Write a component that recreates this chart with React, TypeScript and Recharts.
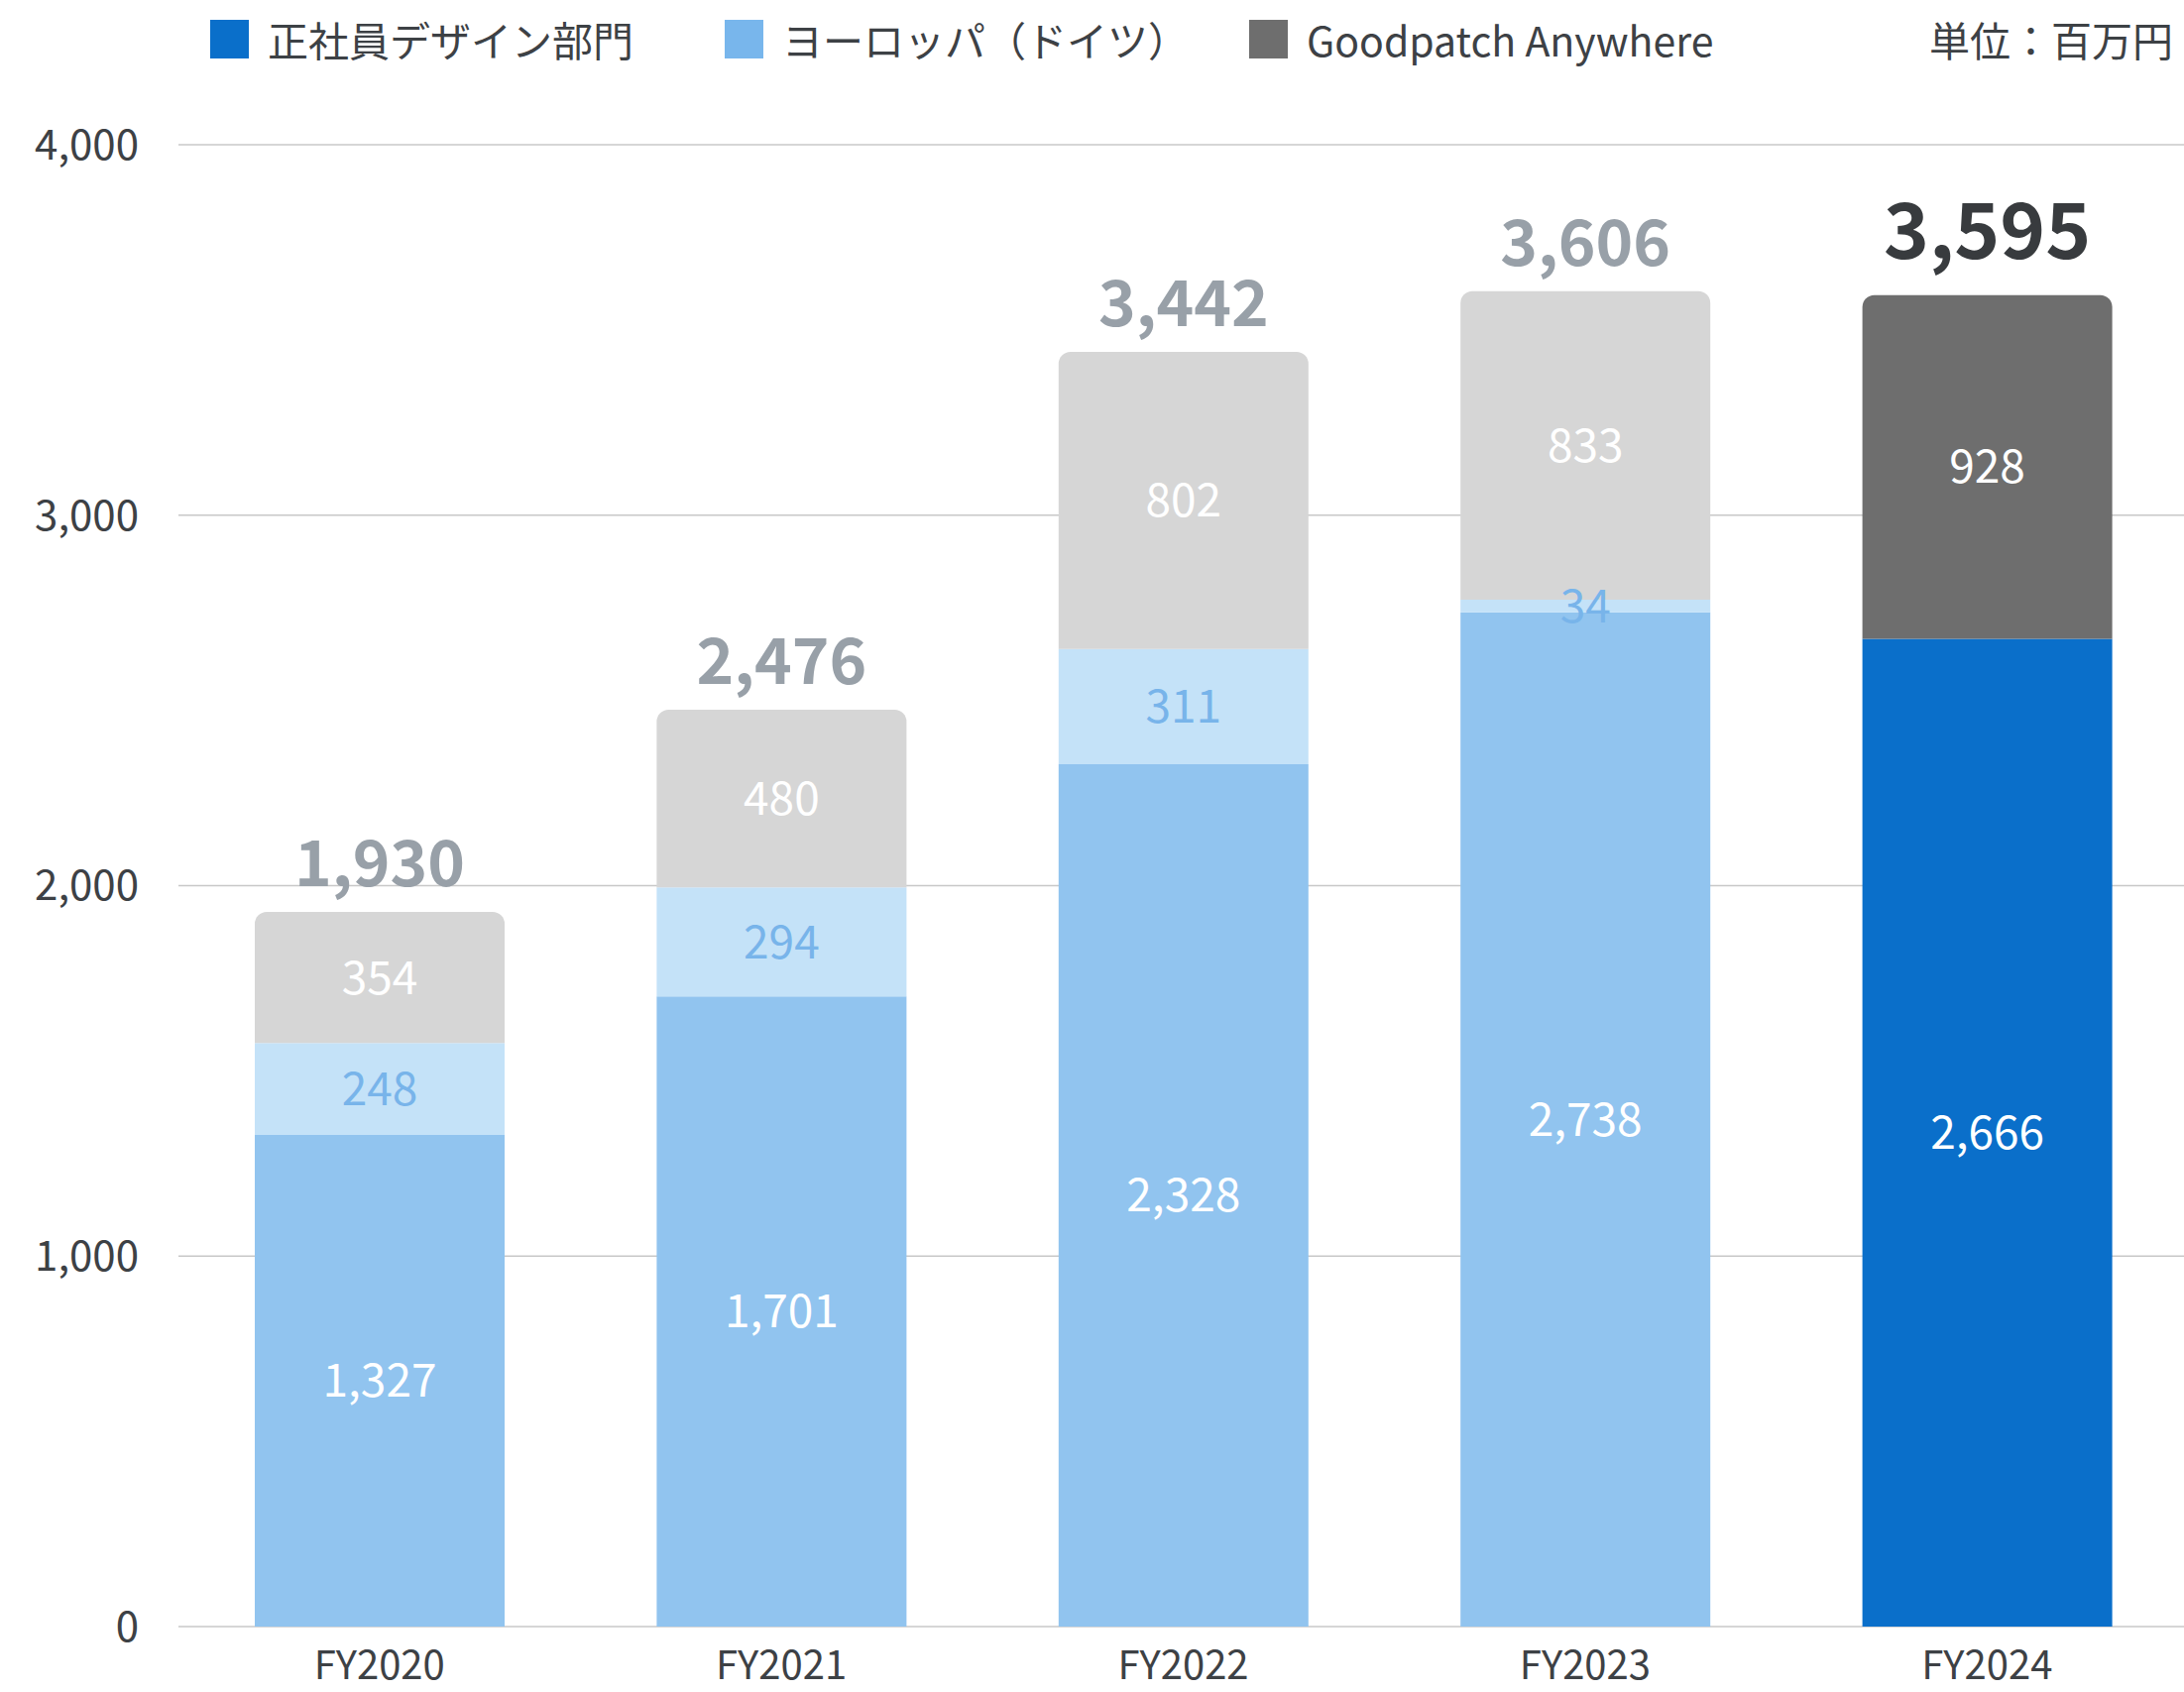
import React from 'react';
import { BarChart, Bar, XAxis, YAxis, CartesianGrid, LabelList, Cell } from 'recharts';

const categories = ['FY2020', 'FY2021', 'FY2022', 'FY2023', 'FY2024'];
const designDept = [1327, 1701, 2328, 2738, 2666];
const europe = [248, 294, 311, 34, 0];
const anywhere = [354, 480, 802, 833, 928];
const totals = [1930, 2476, 3442, 3606, 3595];
const yTicks = [0, 1000, 2000, 3000, 4000];
const seriesNames = ['正社員デザイン部門', 'ヨーロッパ（ドイツ）', 'Goodpatch Anywhere'];
const unitLabel = '単位：百万円';

const FONT = '"Noto Sans CJK JP", "Noto Sans", sans-serif';
const pastColors = { design: '#91c4ef', europe: '#c4e2f8', anywhere: '#d6d6d6' };
const currentColors = { design: '#0a6fca', europe: '#78b6ec', anywhere: '#6e6e6e' };
const legendColors = [currentColors.design, currentColors.europe, currentColors.anywhere];
const legendLefts = [212, 731, 1260];
const lastIndex = categories.length - 1;

const data = categories.map((c, i) => ({
  name: c,
  design: designDept[i],
  europe: europe[i],
  anywhere: anywhere[i],
  total: totals[i],
}));

const fmt = (v: any) => (v ? Number(v).toLocaleString('en-US') : '');

const TotalLabel = (props: any) => {
  const vb = props.viewBox || {};
  const x = props.x ?? vb.x;
  const y = props.y ?? vb.y;
  const width = props.width ?? vb.width;
  const index = props.index;
  const isCur = index === lastIndex;
  return (
    <text
      x={x + width / 2}
      y={y - (isCur ? 37 : 26)}
      textAnchor="middle"
      fontSize={isCur ? 78 : 64}
      fontWeight={700}
      fontFamily={FONT}
      fill={isCur ? '#383b3e' : '#98a0a8'}
    >
      {totals[index] !== undefined ? totals[index].toLocaleString('en-US') : ''}
    </text>
  );
};

export default function App() {
  return (
    <div
      style={{
        position: 'absolute',
        left: 0,
        top: 0,
        width: 2203,
        height: 1707,
        overflow: 'hidden',
        background: '#fff',
        fontFamily: FONT,
      }}
    >
      {seriesNames.map((n, i) => (
        <div
          key={n}
          style={{
            position: 'absolute',
            left: legendLefts[i],
            top: 20,
            height: 39,
            display: 'flex',
            alignItems: 'center',
          }}
        >
          <div style={{ width: 39, height: 39, background: legendColors[i], marginRight: 19 }} />
          <span style={{ fontSize: 41, color: '#3d4145', lineHeight: '39px', whiteSpace: 'nowrap' }}>{n}</span>
        </div>
      ))}
      <div
        style={{
          position: 'absolute',
          right: 11,
          top: 20,
          height: 39,
          fontSize: 41,
          lineHeight: '39px',
          color: '#3d4145',
          whiteSpace: 'nowrap',
        }}
      >
        {unitLabel}
      </div>
      <BarChart
        width={2207}
        height={1707}
        data={data}
        margin={{ top: 146, right: 0, bottom: 0, left: 0 }}
        barSize={252}
      >
        <CartesianGrid horizontal vertical={false} stroke="#c8c8c8" strokeWidth={1.5} />
        <XAxis
          dataKey="name"
          axisLine={false}
          tickLine={false}
          height={66}
          tickMargin={19}
          tick={{ fontSize: 40, fill: '#3d4145', fontFamily: FONT }}
        />
        <YAxis
          domain={[0, 4000]}
          ticks={yTicks}
          width={180}
          axisLine={false}
          tickLine={false}
          tickMargin={34}
          tickFormatter={(v: number) => v.toLocaleString('en-US')}
          tick={{ fontSize: 42, fill: '#3d4145', fontFamily: FONT }}
        />
        <Bar dataKey="design" stackId="a" isAnimationActive={false}>
          {data.map((d, i) => (
            <Cell key={d.name} fill={i === lastIndex ? currentColors.design : pastColors.design} />
          ))}
          <LabelList
            dataKey="design"
            position="center"
            formatter={fmt}
            fill="#ffffff"
            fontSize={46}
            fontFamily={FONT}
          />
        </Bar>
        <Bar dataKey="europe" stackId="a" isAnimationActive={false}>
          {data.map((d, i) => (
            <Cell key={d.name} fill={i === lastIndex ? currentColors.europe : pastColors.europe} />
          ))}
          <LabelList
            dataKey="europe"
            position="center"
            formatter={fmt}
            fill="#78b4ea"
            fontSize={46}
            fontFamily={FONT}
          />
        </Bar>
        <Bar dataKey="anywhere" stackId="a" isAnimationActive={false} radius={[12, 12, 0, 0]}>
          {data.map((d, i) => (
            <Cell key={d.name} fill={i === lastIndex ? currentColors.anywhere : pastColors.anywhere} />
          ))}
          <LabelList
            dataKey="anywhere"
            position="center"
            formatter={fmt}
            fill="#ffffff"
            fontSize={46}
            fontFamily={FONT}
          />
          <LabelList dataKey="total" content={TotalLabel} />
        </Bar>
      </BarChart>
    </div>
  );
}
